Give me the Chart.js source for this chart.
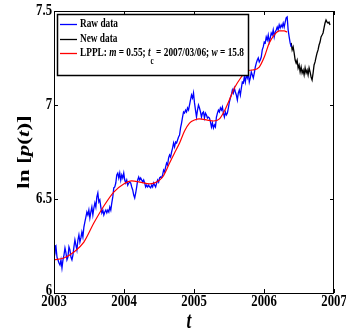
<!DOCTYPE html>
<html>
<head>
<meta charset="utf-8">
<script src="https://cdn.jsdelivr.net/npm/chart.js@4/dist/chart.umd.min.js"></script>
<style>
  html, body { margin: 0; padding: 0; background: #fff; }
  #wrap { width: 346px; height: 334px; }
</style>
</head>
<body>
<div id="wrap"><canvas id="lppl"></canvas></div>
<script>
// raw weekly-ish log prices, 2003 -> mid 2006
var rawStart = 2003.0;
var rawStep = 0.014235;
var rawLog = [
  6.255, 6.229, 6.245, 6.191, 6.176, 6.160, 6.149, 6.176, 6.133, 6.176,
  6.202, 6.239, 6.213, 6.176, 6.191, 6.245, 6.229, 6.191, 6.176, 6.202,
  6.245, 6.282, 6.255, 6.229, 6.282, 6.309, 6.271, 6.293, 6.324, 6.298,
  6.351, 6.378, 6.404, 6.431, 6.415, 6.441, 6.399, 6.431, 6.457, 6.415,
  6.452, 6.479, 6.457, 6.511, 6.532, 6.484, 6.495, 6.457, 6.426, 6.441,
  6.415, 6.431, 6.441, 6.426, 6.441, 6.431, 6.457, 6.441, 6.479, 6.511,
  6.559, 6.564, 6.585, 6.628, 6.638, 6.612, 6.638, 6.601, 6.628, 6.612,
  6.638, 6.601, 6.585, 6.601, 6.574, 6.585, 6.590, 6.585, 6.564, 6.548,
  6.521, 6.505, 6.532, 6.564, 6.601, 6.617, 6.601, 6.612, 6.601, 6.590,
  6.601, 6.585, 6.564, 6.574, 6.564, 6.574, 6.564, 6.559, 6.574, 6.564,
  6.585, 6.574, 6.564, 6.585, 6.601, 6.590, 6.612, 6.617, 6.612, 6.628,
  6.654, 6.644, 6.670, 6.691, 6.681, 6.718, 6.734, 6.723, 6.750, 6.771,
  6.798, 6.777, 6.803, 6.798, 6.814, 6.830, 6.840, 6.878, 6.904, 6.936,
  6.963, 6.957, 6.973, 6.963, 6.984, 6.973, 7.000, 7.027, 7.053, 7.037,
  7.064, 7.011, 6.973, 6.936, 6.973, 7.000, 6.984, 6.963, 6.936, 6.957,
  6.963, 6.931, 6.957, 6.947, 6.931, 6.936, 6.931, 6.910, 6.883, 6.904,
  6.878, 6.894, 6.883, 6.936, 6.957, 6.973, 6.963, 6.984, 6.973, 6.989,
  6.957, 6.936, 6.963, 6.947, 6.957, 6.984, 7.016, 7.037, 7.053, 7.080,
  7.064, 7.090, 7.069, 7.053, 7.027, 7.064, 7.080, 7.053, 7.090, 7.122,
  7.117, 7.149, 7.122, 7.160, 7.144, 7.170, 7.122, 7.144, 7.176, 7.160,
  7.144, 7.170, 7.202, 7.223, 7.239, 7.250, 7.229, 7.239, 7.255, 7.293,
  7.309, 7.335, 7.330, 7.362, 7.346, 7.372, 7.335, 7.356, 7.383, 7.372,
  7.399, 7.362, 7.388, 7.399, 7.415, 7.399, 7.426, 7.410, 7.426, 7.415,
  7.436, 7.415, 7.441, 7.463, 7.468, 7.399, 7.362, 7.330, 7.309
];

// data after the fit window
var newStart = 2006.388;
var newLog = [
  7.330, 7.293, 7.309, 7.277, 7.239, 7.223, 7.239, 7.197, 7.213, 7.176,
  7.202, 7.170, 7.186, 7.160, 7.197, 7.170, 7.186, 7.160, 7.197, 7.176,
  7.149, 7.133, 7.170, 7.213, 7.229, 7.255, 7.277, 7.293, 7.319, 7.335,
  7.362, 7.372, 7.383, 7.410, 7.436, 7.452, 7.441, 7.436, 7.441, 7.426
];

// LPPL fit curve
var fitYears = [
  2003.000, 2003.142, 2003.285, 2003.427, 2003.569, 2003.712, 2003.854, 2003.996,
  2004.110, 2004.224, 2004.367, 2004.466, 2004.552, 2004.651, 2004.722, 2004.794,
  2004.865, 2004.936, 2005.007, 2005.078, 2005.192, 2005.278, 2005.363, 2005.434,
  2005.505, 2005.577, 2005.676, 2005.747, 2005.833, 2005.932, 2006.004, 2006.075,
  2006.146, 2006.217, 2006.288, 2006.331
];
var fitLog = [
  6.176, 6.186, 6.218, 6.271, 6.372, 6.463, 6.537, 6.580,
  6.596, 6.590, 6.580, 6.590, 6.617, 6.691, 6.745, 6.798,
  6.862, 6.904, 6.920, 6.926, 6.920, 6.915, 6.926, 6.968,
  7.027, 7.090, 7.149, 7.181, 7.186, 7.202, 7.255, 7.330,
  7.372, 7.394, 7.394, 7.388
];

var xTicks = [2003, 2004, 2005, 2006, 2007];
var yTicks = [6, 6.5, 7, 7.5];

var SQ = 0.75; // the original figure is squeezed horizontally
var serif = '"Liberation Serif", "DejaVu Serif", serif';

function pts(start, step, vals) {
  return vals.map(function (v, i) { return { x: start + i * step, y: v }; });
}

function squeezed(ctx, text, x, y, align) {
  ctx.save();
  ctx.translate(x, y);
  ctx.scale(SQ, 1);
  ctx.textAlign = align;
  ctx.fillText(text, 0, 0);
  ctx.restore();
}

// draws a row of mixed upright / italic / subscript pieces
function richRow(ctx, parts, x, y) {
  ctx.save();
  ctx.translate(x, y);
  ctx.scale(0.715, 1);
  ctx.textAlign = 'left';
  var cx = 0;
  parts.forEach(function (p) {
    var size = p.sub ? 10 : 13;
    ctx.font = (p.it ? 'italic ' : '') + 'bold ' + size + 'px ' + serif;
    ctx.fillText(p.t, cx, p.sub ? 8 : 0);
    cx += ctx.measureText(p.t).width;
  });
  ctx.restore();
}

var framePlugin = {
  id: 'frame',
  afterDraw: function (chart) {
    var ctx = chart.ctx, a = chart.chartArea;
    var xs = chart.scales.x, ys = chart.scales.y;
    ctx.save();
    ctx.strokeStyle = '#000';
    ctx.lineWidth = 1;
    ctx.strokeRect(a.left + 0.5, a.top + 0.5, a.right - a.left - 1, a.bottom - a.top);

    // inward ticks on all four sides
    ctx.beginPath();
    xTicks.forEach(function (v) {
      var px = Math.round(xs.getPixelForValue(v)) + 0.5;
      ctx.moveTo(px, a.bottom); ctx.lineTo(px, a.bottom - 4);
      ctx.moveTo(px, a.top); ctx.lineTo(px, a.top + 4);
    });
    yTicks.forEach(function (v) {
      var py = Math.round(ys.getPixelForValue(v)) + 0.5;
      ctx.moveTo(a.left, py); ctx.lineTo(a.left + 4, py);
      ctx.moveTo(a.right, py); ctx.lineTo(a.right - 4, py);
    });
    ctx.stroke();

    // tick labels
    ctx.fillStyle = '#000';
    ctx.font = 'bold 17px ' + serif;
    ctx.textBaseline = 'middle';
    xTicks.forEach(function (v) {
      squeezed(ctx, String(v), xs.getPixelForValue(v), 302, 'center');
    });
    yTicks.forEach(function (v) {
      var py = ys.getPixelForValue(v);
      if (v === 6) py -= 2;
      squeezed(ctx, String(v), a.left - 2, py, 'right');
    });

    // x title
    ctx.font = 'italic bold 23px ' + serif;
    ctx.textBaseline = 'alphabetic';
    squeezed(ctx, 't', 189, 328, 'center');

    // y title: ln [p(t)]
    var yParts = [
      { t: 'ln [', it: false }, { t: 'p', it: true }, { t: '(', it: false },
      { t: 't', it: true }, { t: ')]', it: false }
    ];
    ctx.save();
    ctx.translate(29, 152);
    ctx.rotate(-Math.PI / 2);
    ctx.scale(1, SQ);
    var total = 0;
    yParts.forEach(function (p) {
      ctx.font = (p.it ? 'italic ' : '') + 'bold 23px ' + serif;
      total += ctx.measureText(p.t).width;
    });
    var cx = -total / 2;
    ctx.textAlign = 'left';
    yParts.forEach(function (p) {
      ctx.font = (p.it ? 'italic ' : '') + 'bold 23px ' + serif;
      ctx.fillText(p.t, cx, 0);
      cx += ctx.measureText(p.t).width;
    });
    ctx.restore();

    // legend box
    ctx.fillStyle = '#fff';
    ctx.fillRect(57, 14, 192, 62);
    ctx.strokeStyle = '#000';
    ctx.lineWidth = 1.5;
    ctx.strokeRect(57.5, 14.5, 191, 61);
    var rows = [
      { c: '#0000ff', y: 24, parts: [{ t: 'Raw data' }] },
      { c: '#000000', y: 39, parts: [{ t: 'New data' }] },
      { c: '#ff0000', y: 53, parts: [
        { t: 'LPPL: ' }, { t: 'm', it: true }, { t: ' = 0.55; ' }, { t: 't', it: true },
        { t: 'c', sub: true }, { t: ' = 2007/03/06; ' }, { t: 'w', it: true }, { t: ' = 15.8' }
      ] }
    ];
    rows.forEach(function (r) {
      ctx.strokeStyle = r.c;
      ctx.lineWidth = 1.3;
      ctx.beginPath();
      ctx.moveTo(60, r.y + 0.5); ctx.lineTo(77, r.y + 0.5);
      ctx.stroke();
      ctx.fillStyle = '#000';
      ctx.textBaseline = 'middle';
      richRow(ctx, r.parts, 80, r.y);
    });
    ctx.restore();
  }
};

var ctx = document.getElementById('lppl').getContext('2d');
new Chart(ctx, {
  type: 'line',
  data: {
    datasets: [{
      label: 'LPPL',
      data: fitYears.map(function (t, i) { return { x: t, y: fitLog[i] }; }),
      borderColor: '#ff0000',
      borderWidth: 1.2,
      pointRadius: 0,
      cubicInterpolationMode: 'monotone',
      order: 0
    }, {
      label: 'Raw data',
      data: pts(rawStart, rawStep, rawLog),
      borderColor: '#0000ff',
      borderWidth: 1.3,
      pointRadius: 0,
      tension: 0,
      order: 1
    }, {
      label: 'New data',
      data: pts(newStart, rawStep, newLog),
      borderColor: '#000000',
      borderWidth: 1.3,
      pointRadius: 0,
      tension: 0,
      order: 2
    }]
  },
  options: {
    responsive: true,
    maintainAspectRatio: false,
    animation: false,
    layout: { padding: { left: 0, top: 11, right: 12, bottom: 0 } },
    plugins: { legend: { display: false }, tooltip: { enabled: false } },
    scales: {
      x: {
        type: 'linear', min: 2003, max: 2007,
        grid: { display: false },
        border: { display: false },
        ticks: { display: false, stepSize: 1 },
        afterFit: function (s) { s.height = 41; }
      },
      y: {
        min: 6, max: 7.5,
        grid: { display: false },
        border: { display: false },
        ticks: { display: false, stepSize: 0.5 },
        afterFit: function (s) { s.width = 54; }
      }
    }
  },
  plugins: [framePlugin]
});
</script>
</body>
</html>
